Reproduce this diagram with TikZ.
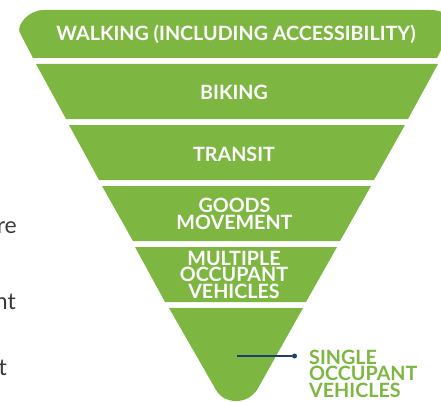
\documentclass[tikz,border=0pt]{standalone}
\usepackage{fontspec}
\setmainfont{Lato}
\definecolor{lev}{HTML}{7DB742}
\definecolor{navy}{HTML}{1C3F6E}
\definecolor{body}{HTML}{3A3A3C}
\tikzset{
  band/.style={fill=lev,draw=none},
  lab/.style={text=white,font=\fontsize{19.7}{16.5}\selectfont\bfseries,align=center,inner sep=0pt},
  frag/.style={text=body,font=\fontsize{23}{23}\selectfont,anchor=base east,inner sep=0pt}
}
\begin{document}
\begin{tikzpicture}[x=1pt,y=-1pt]
\useasboundingbox (0,0) rectangle (441,401);
\clip (0,0) rectangle (441,401);
\fill[band] (33,58) -- (19.5,32) .. controls (17,25) and (28,10) .. (44,10) -- (430,10) .. controls (436,10) and (441,11) .. (446,14) -- (446,40) -- (437,58) -- cycle;
\fill[band] (36,64) -- (438,64) -- (408,119) -- (66,119) -- cycle;
\fill[band] (69,125) -- (405,125) -- (374,180) -- (99,180) -- cycle;
\fill[band] (102,186) -- (371,186) -- (340,241) -- (133,241) -- cycle;
\fill[band] (135,247) -- (337,247) -- (306,302) -- (165,302) -- cycle;
\fill[band] (169,308) -- (303,308) -- (257,390) .. controls (251,398) and (244,401) .. (236,401) .. controls (228,401) and (221,398) .. (216,390) -- cycle;
\node[lab] (walk) at (236,34.5) {WALKING (INCLUDING ACCESSIBILITY)};
\node[lab] (bike) at (234,92) {BIKING};
\node[lab] (trans) at (234,154) {TRANSIT};
\node[lab] (goods) at (234.5,214) {GOODS\\MOVEMENT};
\node[lab] (multi) at (234,274.5) {MULTIPLE\\OCCUPANT\\VEHICLES};
\node[lab,text=lev,align=left,anchor=north west] (single) at (309,349.5) {SINGLE\\OCCUPANT\\VEHICLES};
\coordinate (start) at (237,356);
\node[circle,fill=navy,minimum size=5pt,inner sep=0pt] (dot) at (294.5,356) {};
\draw[navy,line width=1.4pt] (start) -- (dot);
\node[frag] (f1) at (17,233) {re};
\node[frag] (f2) at (16,309) {nt};
\node[frag] (f3) at (7,375) {t};
\end{tikzpicture}
\end{document}
